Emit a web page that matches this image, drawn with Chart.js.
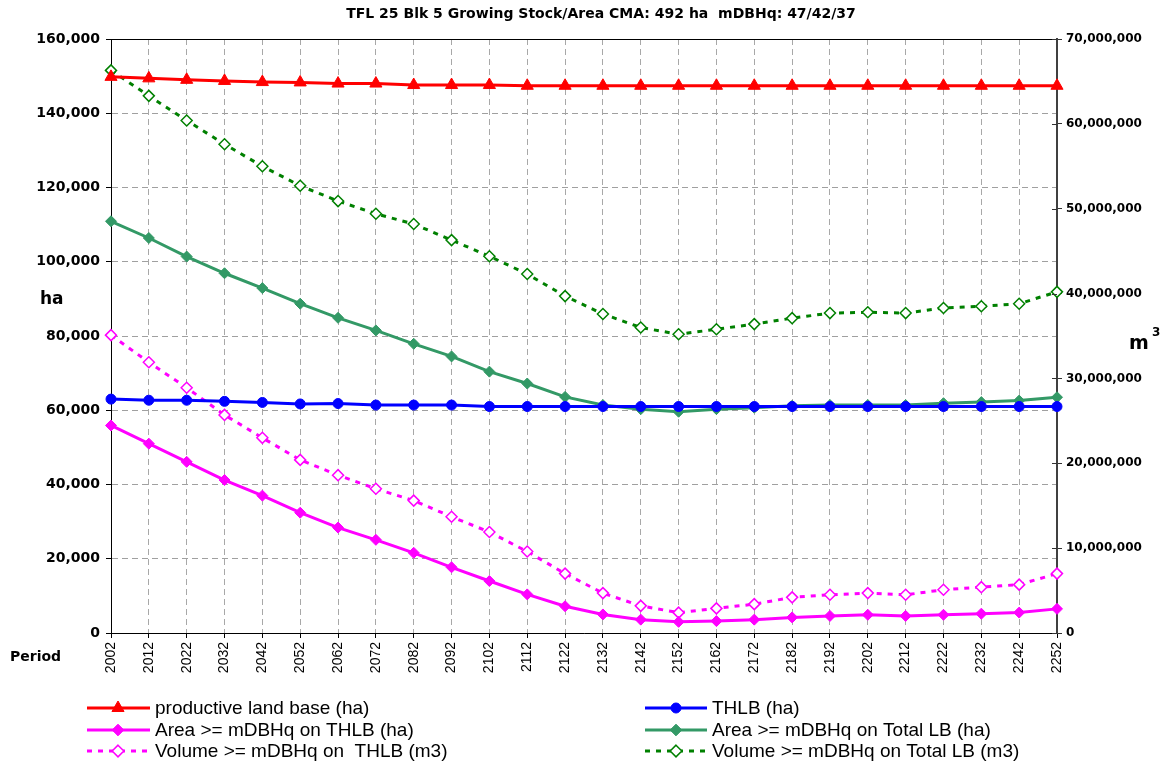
<!DOCTYPE html>
<html>
<head>
<meta charset="utf-8">
<script src="https://cdn.jsdelivr.net/npm/chart.js@4.4.1/dist/chart.umd.min.js"></script>
<style>
  html, body { margin: 0; padding: 0; background: #fff; }
  #wrap { width: 1166px; height: 765px; position: relative; }
</style>
</head>
<body>
<div id="wrap"><canvas id="c" width="1166" height="765"></canvas></div>
<script>
// Planning periods (x axis)
const periods = ['2002','2012','2022','2032','2042','2052','2062','2072','2082','2092',
  '2102','2112','2122','2132','2142','2152','2162','2172','2182','2192',
  '2202','2212','2222','2232','2242','2252'];

// Areas (ha), left axis
const productiveLandBase = [149800,149400,149000,148700,148400,148300,148000,148000,147600,147600,
  147600,147400,147400,147400,147400,147400,147400,147400,147400,147400,
  147400,147400,147400,147400,147400,147400];
const thlbArea = [63000,62700,62700,62400,62100,61700,61800,61400,61400,61400,
  61000,61000,61000,61000,61000,61000,61000,61000,61000,61000,
  61000,61000,61000,61000,61000,61000];
const areaMdbhqThlb = [55900,51000,46100,41200,37000,32400,28400,25100,21600,17700,
  14000,10400,7200,5000,3600,3000,3200,3600,4200,4600,
  4900,4600,4900,5200,5500,6500];
const areaMdbhqTotal = [110900,106400,101400,96900,92900,88700,84900,81500,77900,74500,
  70400,67200,63600,61400,60300,59600,60300,60700,61200,61400,
  61400,61400,61900,62200,62600,63500];

// Volumes (m3), right axis
const volMdbhqThlb = [35100000,31900000,28900000,25700000,23000000,20400000,18600000,17000000,15600000,13700000,
  11900000,9600000,7000000,4700000,3200000,2400000,2900000,3400000,4200000,4500000,
  4700000,4500000,5100000,5400000,5700000,7000000];
const volMdbhqTotal = [66300000,63300000,60400000,57600000,55000000,52700000,50900000,49400000,48200000,46300000,
  44400000,42300000,39700000,37600000,36000000,35200000,35800000,36400000,37100000,37700000,
  37800000,37700000,38300000,38500000,38800000,40200000];

// Axis ranges
const haMax = 160000, haStep = 20000;
const m3Max = 70000000, m3Step = 10000000;

const titleText = 'TFL 25 Blk 5 Growing Stock/Area CMA: 492 ha  mDBHq: 47/42/37';

const fmt = v => Number(v).toLocaleString('en-US');

const datasets = [
  { label: 'productive land base (ha)', data: productiveLandBase, yAxisID: 'y',
    borderColor: '#FF0000', backgroundColor: '#FF0000', borderWidth: 3,
    pointStyle: 'triangle', pointRadius: 7, pointBackgroundColor: '#FF0000', pointBorderColor: '#FF0000', pointBorderWidth: 1 },
  { label: 'THLB (ha)', data: thlbArea, yAxisID: 'y',
    borderColor: '#0000FF', backgroundColor: '#0000FF', borderWidth: 3,
    pointStyle: 'circle', pointRadius: 5, pointBackgroundColor: '#0000FF', pointBorderColor: '#0000FF', pointBorderWidth: 1 },
  { label: 'Area >= mDBHq on THLB (ha)', data: areaMdbhqThlb, yAxisID: 'y',
    borderColor: '#FF00FF', backgroundColor: '#FF00FF', borderWidth: 3,
    pointStyle: 'rectRot', pointRadius: 5.5, pointBackgroundColor: '#FF00FF', pointBorderColor: '#FF00FF', pointBorderWidth: 1 },
  { label: 'Area >= mDBHq on Total LB (ha)', data: areaMdbhqTotal, yAxisID: 'y',
    borderColor: '#339966', backgroundColor: '#339966', borderWidth: 3,
    pointStyle: 'rectRot', pointRadius: 5.5, pointBackgroundColor: '#339966', pointBorderColor: '#339966', pointBorderWidth: 1 },
  { label: 'Volume >= mDBHq on  THLB (m3)', data: volMdbhqThlb, yAxisID: 'y2',
    borderColor: '#FF00FF', backgroundColor: '#FFFFFF', borderWidth: 3, borderDash: [5, 6],
    pointStyle: 'rectRot', pointRadius: 5.5, pointBackgroundColor: '#FFFFFF', pointBorderColor: '#FF00FF', pointBorderWidth: 1.5 },
  { label: 'Volume >= mDBHq on Total LB (m3)', data: volMdbhqTotal, yAxisID: 'y2',
    borderColor: '#008000', backgroundColor: '#FFFFFF', borderWidth: 3, borderDash: [5, 6],
    pointStyle: 'rectRot', pointRadius: 5.5, pointBackgroundColor: '#FFFFFF', pointBorderColor: '#008000', pointBorderWidth: 1.5 }
];

// Marker drawing for the legend swatches
function marker(ctx, style, x, y, r, fill, stroke, bw) {
  ctx.save();
  ctx.beginPath();
  if (style === 'triangle') {
    ctx.moveTo(x, y - r);
    ctx.lineTo(x + r * Math.sin(Math.PI / 3), y + r / 2);
    ctx.lineTo(x - r * Math.sin(Math.PI / 3), y + r / 2);
    ctx.closePath();
  } else if (style === 'circle') {
    ctx.arc(x, y, r, 0, Math.PI * 2);
  } else {
    const d = r * Math.SQRT2 * 0.75;
    ctx.moveTo(x, y - d); ctx.lineTo(x + d, y); ctx.lineTo(x, y + d); ctx.lineTo(x - d, y); ctx.closePath();
  }
  ctx.fillStyle = fill; ctx.fill();
  ctx.lineWidth = bw; ctx.strokeStyle = stroke; ctx.stroke();
  ctx.restore();
}

const decorations = {
  id: 'decorations',
  afterDraw(chart) {
    const { ctx, chartArea: a } = chart;
    ctx.save();

    // frame across the top of the plot
    ctx.strokeStyle = '#000'; ctx.lineWidth = 1;
    ctx.beginPath(); ctx.moveTo(a.left, Math.round(a.top) + 0.5); ctx.lineTo(a.right, Math.round(a.top) + 0.5); ctx.stroke();

    // right axis ticks run across the axis line
    const y2 = chart.scales.y2;
    ctx.strokeStyle = '#333'; ctx.lineWidth = 1;
    y2.ticks.forEach(t => {
      const py = Math.round(y2.getPixelForValue(t.value)) + 0.5;
      ctx.beginPath(); ctx.moveTo(a.right - 5, py); ctx.lineTo(a.right, py); ctx.stroke();
    });

    // title
    ctx.fillStyle = '#000';
    ctx.font = 'bold 14px "DejaVu Sans"';
    ctx.textAlign = 'center'; ctx.textBaseline = 'middle';
    ctx.fillText(titleText, 601, 14);

    // axis captions
    ctx.font = 'bold 17px "DejaVu Sans"';
    ctx.textAlign = 'left';
    ctx.fillText('ha', 40, 300);
    ctx.font = 'bold 19px "DejaVu Sans"';
    ctx.fillText('m', 1129, 344);
    ctx.font = 'bold 12px "DejaVu Sans"';
    ctx.fillText('3', 1152, 333);
    ctx.font = 'bold 14px "DejaVu Sans"';
    ctx.fillText('Period', 10, 657);

    // legend: two columns, three rows
    const cols = [{ x0: 87, x1: 150, mx: 118, tx: 155 }, { x0: 645, x1: 707, mx: 676, tx: 712 }];
    const rows = [708, 730, 751];
    ctx.font = '19px "Liberation Sans"';
    chart.data.datasets.forEach((ds, i) => {
      const c = cols[i % 2], y = rows[Math.floor(i / 2)];
      ctx.save();
      ctx.strokeStyle = ds.borderColor; ctx.lineWidth = ds.borderWidth;
      ctx.setLineDash(ds.borderDash || []);
      ctx.beginPath(); ctx.moveTo(c.x0, y); ctx.lineTo(c.x1, y); ctx.stroke();
      ctx.restore();
      marker(ctx, ds.pointStyle, c.mx, y, ds.pointRadius, ds.pointBackgroundColor, ds.pointBorderColor, ds.pointBorderWidth);
      ctx.fillStyle = '#000'; ctx.textAlign = 'left'; ctx.textBaseline = 'middle';
      ctx.fillText(ds.label, c.tx, y + 1);
    });
    ctx.restore();
  }
};

new Chart(document.getElementById('c'), {
  type: 'line',
  data: { labels: periods, datasets },
  options: {
    responsive: false,
    animation: false,
    layout: { padding: { top: 39, left: 0, right: 0, bottom: 0 } },
    plugins: { legend: { display: false }, title: { display: false }, tooltip: { enabled: false } },
    elements: { line: { tension: 0 } },
    scales: {
      x: {
        type: 'category', offset: false,
        grid: { color: '#a8a8a8', lineWidth: 1, tickLength: 5, tickColor: '#000', tickBorderDash: [], drawTicks: true },
        border: { display: true, color: '#000', width: 1, dash: [6, 4] },
        ticks: { autoSkip: false, minRotation: 90, maxRotation: 90, padding: 4, color: '#000',
                 font: { family: 'Liberation Sans', size: 14 } },
        afterFit(s) { s.height = 765 - 633; }
      },
      y: {
        position: 'left', min: 0, max: haMax,
        grid: { color: '#a0a0a0', lineWidth: 1, tickLength: 5, tickColor: '#000', tickBorderDash: [] },
        border: { display: true, color: '#000', width: 1, dash: [6, 4] },
        ticks: { stepSize: haStep, padding: 6, color: '#000', callback: v => fmt(v),
                 font: { family: 'DejaVu Sans', size: 14, weight: 'bold' } },
        afterFit(s) { s.width = 111; }
      },
      y2: {
        position: 'right', min: 0, max: m3Max,
        grid: { drawOnChartArea: false, tickLength: 5, tickColor: '#333' },
        border: { display: true, color: '#404040', width: 2 },
        ticks: { stepSize: m3Step, padding: 4, color: '#000', callback: v => fmt(v),
                 font: { family: 'DejaVu Sans', size: 12, weight: 'bold' } },
        afterFit(s) { s.width = 1166 - 1057; }
      }
    }
  },
  plugins: [decorations]
});
</script>
</body>
</html>
